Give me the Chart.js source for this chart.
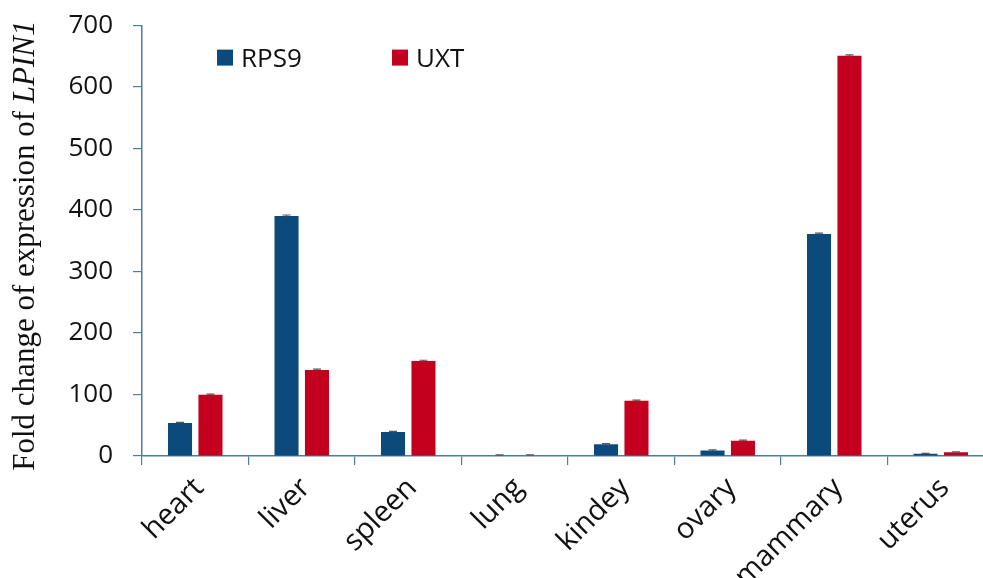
<!DOCTYPE html>
<html>
<head>
<meta charset="utf-8">
<script src="https://cdn.jsdelivr.net/npm/chart.js@4.4.1/dist/chart.umd.min.js"></script>
<style>
  html, body { margin: 0; padding: 0; background: #fff; overflow: hidden; }
  #wrap { width: 1000px; height: 588px; position: absolute; left: 0; top: -10px; }
</style>
</head>
<body>
<div id="wrap"><canvas id="c" width="1000" height="588"></canvas></div>
<script>
// Tissues and fold-change values of LPIN1 expression, normalised to two reference genes
const tissues = ['heart', 'liver', 'spleen', 'lung', 'kindey', 'ovary', 'mammary', 'uterus'];
const rps9 = [53.6, 390.5, 39, 1, 19, 9, 361, 3.5];
const uxt = [99.5, 140, 154.5, 1, 90, 25, 651, 6];
const rps9Err = [1.2, 1.5, 1.2, 0.8, 1.0, 0.8, 1.5, 0.8];
const uxtErr = [1.2, 1.2, 1.2, 0.8, 1.0, 0.8, 1.5, 0.8];
const yTicks = [0, 100, 200, 300, 400, 500, 600, 700];

const seriesNames = ['RPS9', 'UXT'];
const seriesColors = ['#0c4a7b', '#c4001f'];
const axisColor = '#4f7d9c';

// Small capped error bars on top of every bar
const errorBars = {
  id: 'errorBars',
  afterDatasetsDraw(chart) {
    const ctx = chart.ctx;
    const yScale = chart.scales.y;
    const errs = [rps9Err, uxtErr];
    ctx.save();
    ctx.strokeStyle = '#555';
    ctx.lineWidth = 1.2;
    chart.data.datasets.forEach((ds, di) => {
      chart.getDatasetMeta(di).data.forEach((bar, i) => {
        const v = ds.data[i], e = errs[di][i];
        const x = bar.x;
        const yHi = yScale.getPixelForValue(v + e);
        const yLo = yScale.getPixelForValue(Math.max(0, v - e));
        ctx.beginPath();
        ctx.moveTo(x, yLo); ctx.lineTo(x, yHi);
        ctx.moveTo(x - 4, yHi); ctx.lineTo(x + 4, yHi);
        ctx.stroke();
      });
    });
    ctx.restore();
  }
};

// Legend inside the plot and the rotated axis title with the italic gene name
const annotations = {
  id: 'annotations',
  afterDraw(chart) {
    const ctx = chart.ctx;
    const top = chart.chartArea.top;
    ctx.save();
    const legendX = [217, 392];
    ctx.font = '26px "Open Sans"';
    ctx.textBaseline = 'alphabetic';
    ctx.textAlign = 'left';
    seriesNames.forEach((name, i) => {
      ctx.fillStyle = seriesColors[i];
      ctx.fillRect(legendX[i], top + 24, 16, 16);
      ctx.fillStyle = '#111';
      ctx.fillText(name, legendX[i] + 24, top + 41);
    });

    const plain = 'Fold change of expression of ';
    const gene = 'LPIN1';
    const fPlain = '31px "Liberation Serif"';
    const fGene = 'italic 31px "Liberation Serif"';
    ctx.font = fPlain;
    const w1 = ctx.measureText(plain).width;
    ctx.font = fGene;
    const w2 = ctx.measureText(gene).width;
    const total = w1 + w2;
    const cy = top + 220;
    ctx.translate(34, cy);
    ctx.rotate(-Math.PI / 2);
    ctx.fillStyle = '#111';
    ctx.font = fPlain;
    ctx.fillText(plain, -total / 2, 0);
    ctx.font = fGene;
    ctx.fillText(gene, -total / 2 + w1, 0);
    ctx.restore();
  }
};

new Chart(document.getElementById('c'), {
  type: 'bar',
  data: {
    labels: tissues,
    datasets: [
      { label: seriesNames[0], data: rps9, backgroundColor: seriesColors[0] },
      { label: seriesNames[1], data: uxt, backgroundColor: seriesColors[1] }
    ]
  },
  options: {
    responsive: false,
    animation: false,
    devicePixelRatio: 1,
    layout: { padding: { left: 0, right: 6, top: 14, bottom: 0 } },
    datasets: { bar: { categoryPercentage: 0.572, barPercentage: 0.79 } },
    plugins: { legend: { display: false }, tooltip: { enabled: false } },
    scales: {
      x: {
        offset: true,
        grid: { offset: true, drawOnChartArea: false, color: axisColor, tickLength: 9, lineWidth: 1.2 },
        border: { color: axisColor, width: 1.5 },
        ticks: {
          color: '#111',
          font: { family: 'Open Sans', size: 29 },
          minRotation: 45, maxRotation: 45,
          padding: 6,
          labelOffset: 4
        },
        afterFit(scale) { scale.height = 122; }
      },
      y: {
        min: 0, max: 700,
        afterBuildTicks(scale) { scale.ticks = yTicks.map(v => ({ value: v })); },
        grid: { drawOnChartArea: false, color: axisColor, tickLength: 9, lineWidth: 1.2 },
        border: { color: axisColor, width: 1.5 },
        ticks: {
          color: '#111',
          font: { family: 'Open Sans', size: 26 },
          padding: 20
        },
        afterFit(scale) { scale.width = 142; }
      }
    }
  },
  plugins: [errorBars, annotations]
});
</script>
</body>
</html>
